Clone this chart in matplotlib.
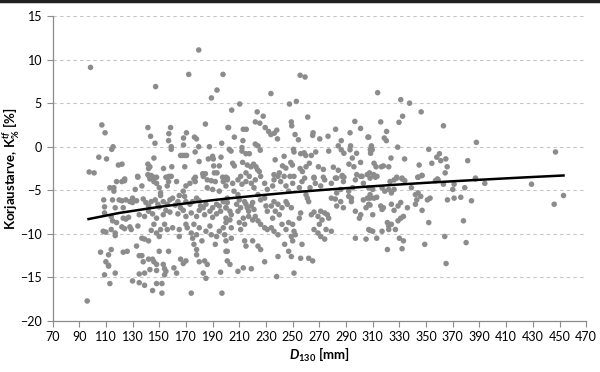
import matplotlib
matplotlib.use('Agg')
import matplotlib.pyplot as plt
from matplotlib.lines import Line2D

plt.rcParams['font.family'] = ['Lato', 'DejaVu Sans']
plt.rcParams['mathtext.fontset'] = 'custom'
plt.rcParams['mathtext.rm'] = 'Lato:bold'
plt.rcParams['mathtext.it'] = 'Lato:italic:bold'
plt.rcParams['mathtext.bf'] = 'Lato:bold'

# D130 (mm) and correction need (%), region by region
d_left_top = [98.5, 179.6, 147.3, 172.1, 197.8, 193.3, 189.1, 107, 109.4, 141.5, 143.5, 146.8,
              158.5, 157.2, 157, 159, 159, 168.2, 170.4, 168.2, 176.4, 177.9, 184.6, 179.6,
              176.9, 187.6, 196.8, 201.5, 115.4, 114.4, 104.7, 110.5, 97.5, 101.2, 119.4, 122.1,
              146, 141.5, 143, 142, 153.2, 159.4, 166, 167.5, 169, 170.5, 169.1, 179.9, 186.8,
              190, 190.5, 196.3, 190.8, 195, 133.8, 141.5, 144, 146, 148, 157.2, 177.1, 182.6,
              184.6, 191.3, 193.3, 197.5, 200, 202.5, 124.1]
k_left_top = [9.1, 11.1, 6.9, 8.3, 8.3, 6.5, 5.6, 2.5, 1.6, 2.2, 1.2, 0.4,
              2.2, 1.5, 0.7, 0.0, -0.3, 1.0, 1.6, 0.2, 1.1, 0.9, 2.6, 0.0,
              -0.6, 0.0, 0.4, 2.2, 0.0, -0.3, -1.2, -1.4, -2.9, -3.0, -2.1, -2.0,
              -1.3, -2.0, -2.3, -2.5, -2.5, -2.3, -1.0, -1.0, -1.0, -1.0, -2.3, -1.7, -1.4,
              -1.1, -1.4, -1.2, -2.2, -2.2, -3.4, -3.2, -3.3, -3.5, -3.5, -3.4, -3.5, -3.1,
              -3.1, -3.0, -3.0, -3.5, -3.5, -0.3, -3.7]

d_left_low = [113, 116, 116, 118, 122, 124, 134, 132, 130, 137, 142, 143, 146, 148, 150, 151, 151,
              155, 157, 159, 156, 163, 165, 168, 170, 173, 176, 177, 183, 186, 189, 192, 186, 190,
              198, 200, 201, 195,
              108.4, 109, 109, 115, 117, 120, 122, 123, 125, 128, 130, 133, 138, 140, 142, 144, 147,
              149, 150, 153, 156, 158, 160, 162, 164, 166, 169, 170, 173, 175, 178, 180, 181, 183,
              185, 188, 190, 193, 195, 198, 200, 201, 114, 115, 118, 123, 125, 127, 135, 139, 142,
              145, 148, 153, 155, 158, 164, 168, 170, 174, 178, 180, 184, 190, 193, 196, 200,
              108, 110, 114, 117, 117, 122, 124, 128, 129, 134, 137, 139, 142, 144, 146, 148, 150,
              151, 154, 156, 160, 165, 165, 170, 171, 174, 175, 176, 178, 180, 182, 185, 188, 189,
              193, 195, 198, 200, 192,
              106, 112, 114, 110, 112, 112, 123, 126, 133, 135, 137, 138, 142, 145, 146, 148, 150,
              153, 154, 155, 157, 166, 168, 170, 176, 178, 178, 180, 184, 186, 200, 201, 109, 117,
              135, 139, 143, 148, 154, 161, 163, 183, 185, 196,
              113, 130, 135, 139, 145, 148, 152, 152, 174, 197, 96]
k_left_low = [-4.7, -4.7, -5.1, -4.0, -4.0, -3.9, -3.5, -4.9, -5.9, -4.5, -3.3, -3.7, -4.0, -4.2, -4.7,
              -5.3, -5.6, -3.5, -4.0, -3.4, -4.5, -4.0, -5.6, -5.1, -4.5, -4.2, -3.7, -4.0, -3.4, -3.8,
              -3.9, -4.0, -4.7, -4.9, -4.0, -4.5, -3.6, -5.1,
              -6.1, -6.9, -7.6, -6.1, -7.0, -6.1, -6.2, -7.0, -6.1, -6.3, -6.4, -6.2, -6.0, -6.4, -6.8,
              -6.3, -6.1, -6.6, -6.9, -6.3, -6.6, -6.1, -5.9, -6.7, -6.3, -7.0, -5.7, -6.3, -6.6, -6.3,
              -5.9, -6.2, -6.8, -7.0, -6.6, -7.4, -7.0, -6.6, -6.8, -6.3, -7.0, -5.9, -8.0, -8.5, -8.7,
              -8.2, -8.3, -8.1, -7.8, -8.0, -7.4, -7.7, -8.2, -7.8, -7.3, -7.5, -7.7, -7.3, -8.0, -7.6,
              -8.0, -7.3, -7.8, -8.1, -7.7, -7.4, -8.2,
              -9.7, -9.8, -9.5, -9.9, -10.2, -9.2, -9.4, -9.2, -9.5, -9.1, -10.5, -10.6, -10.8, -9.6,
              -8.9, -9.9, -10.3, -9.5, -8.9, -9.5, -9.3, -9.5, -10.3, -8.9, -9.3, -9.9, -10.5, -8.9,
              -10.1, -9.3, -10.8, -9.7, -9.1, -10.1, -10.3, -9.7, -9.3, -10.8, -11.2,
              -12.1, -12.4, -11.8, -13.2, -13.6, -13.7, -12.1, -12.0, -11.4, -12.5, -12.5, -13.2,
              -12.9, -12.9, -13.2, -13.5, -12.0, -13.5, -14.0, -14.3, -12.0, -12.9, -13.4, -13.1,
              -11.2, -11.8, -12.4, -13.2, -13.1, -13.5, -12.0, -13.1, -14.7, -14.5, -14.6, -14.5,
              -14.1, -14.2, -14.7, -13.9, -14.5, -14.5, -15.1, -14.4,
              -15.7, -15.4, -15.6, -15.9, -16.5, -15.7, -15.7, -16.8, -16.8, -16.8, -17.7]

d_mid_top = [255.6, 259.3, 233.7, 252.8, 247.6, 210.3, 204.3, 223.4, 227.9, 261.3, 249, 249.3, 222,
             225.4, 202, 213, 215.2, 229.4, 232, 233.7, 236.2, 238.1, 238.6, 251.8, 254.3, 206.3,
             212.7, 265.3, 265, 270.3, 276.5, 282.2, 286.4, 284.2, 293, 296.6, 300.9, 306.4,
             293.4, 309, 203.8, 212, 212, 222, 224, 225.7, 215, 217.5, 250.6, 251, 256, 258.6,
             259.8, 264, 267.3, 277, 286.4, 288.4, 293, 297.9, 308.4, 309.6, 205, 206.3, 212.5,
             216, 218.7, 220.7, 222.5, 223.7, 225, 236.9, 243.6, 242.4, 244.9, 248.6, 249.8,
             255.6, 257.3, 260, 262.5, 269.3, 273, 280.5, 284.2, 287.2, 292.2, 294.7, 295.9,
             300.9, 305.9, 307.6, 215, 217.5, 236, 240, 243.6, 248, 266, 273, 282, 288.4, 298, 302]
k_mid_top = [8.2, 8.0, 6.1, 5.2, 4.9, 4.9, 4.2, 4.0, 3.5, 3.4, 2.85, 2.4, 2.85,
             2.7, 2.2, 2.0, 2.0, 2.2, 1.75, 1.4, 1.55, 1.9, 0.9, 1.4, 0.8, 1.1,
             0.7, 1.6, 1.3, 0.9, 1.2, 2.0, 0.7, 0.1, 1.6, 2.9, 2.1, 1.1,
             0.1, -0.05, -0.5, -0.1, -0.5, 0.3, 0.1, -0.4, -0.8, -0.8, -0.3, -0.6, -0.8, -0.7,
             -1.0, -1.0, -0.6, -0.5, -0.35, -0.75, -0.35, -0.75, -0.75, -0.35, -1.9, -2.2, -1.8,
             -2.1, -2.3, -2.0, -2.3, -2.65, -2.85, -1.5, -1.1, -2.2, -2.45, -1.8, -2.1,
             -2.5, -2.85, -2.3, -1.9, -2.3, -2.6, -2.35, -2.7, -3.3, -2.0, -1.3, -2.3,
             -1.8, -3.2, -3.0, -3.0, -3.4, -3.2, -3.0, -3.4, -3.4, -3.5, -3.5, -3.6, -3.5, -3.2, -3.4]

d_mid_low = [201, 205, 209, 211, 212, 215, 219, 221, 222, 226, 229, 231, 235, 236, 239, 241, 245, 247,
             250, 251, 255, 257, 259, 263, 266, 267, 271, 274, 279, 283, 287, 288, 292, 294, 295, 297,
             301, 303, 308, 283, 286, 308, 306, 310, 260, 261, 262, 279, 282,
             199, 201, 200, 203, 204, 203, 200, 204, 206, 209, 210, 208, 211, 209, 213, 210, 214, 211,
             214, 215, 216, 217, 219, 220, 221, 217, 220, 222, 224, 226, 229, 230, 231, 234, 236, 239,
             237, 240, 235, 242, 245, 246, 249, 224, 226, 229, 231, 234, 236, 239, 242, 245, 247, 250,
             251, 252, 249, 255, 256, 264, 266, 269, 271, 274, 276, 277, 272, 266, 269, 271, 274, 270,
             275, 279, 283, 286, 288, 292, 294, 297, 300, 301, 305, 307, 303, 308, 297, 305, 307, 310,
             199, 204, 201, 203, 209, 213, 219, 214, 215, 220, 224, 226, 229, 239, 244, 247, 249, 250,
             257, 256, 262, 265, 251, 238]
k_mid_low = [-3.8, -4.2, -3.8, -3.4, -4.3, -4.0, -4.2, -4.7, -3.8, -3.4, -4.2, -4.9, -4.5, -3.8, -3.4,
             -4.0, -4.5, -5.1, -4.2, -3.4, -4.7, -4.0, -3.6, -4.7, -3.6, -4.2, -4.5, -3.8, -4.2, -3.6,
             -3.4, -4.0, -5.1, -5.9, -4.7, -3.8, -3.4, -4.2, -3.6, -5.3, -4.9, -5.5, -5.9, -4.9, -5.5,
             -5.9, -6.3, -5.9, -6.0,
             -6.3, -6.4, -7.0, -7.4, -7.8, -8.4, -8.7, -9.3, -5.1, -5.5, -6.1, -6.6, -7.0, -7.4, -8.2,
             -8.7, -8.9, -9.5, -6.3, -6.6, -7.0, -7.4, -6.8, -6.4, -7.2, -8.0, -8.4, -8.0, -5.5, -6.1,
             -5.9, -6.8, -7.4, -6.8, -6.3, -6.6, -7.4, -7.8, -8.2, -7.0, -6.3, -6.6, -7.0, -8.5, -8.9,
             -9.3, -9.5, -9.3, -9.7, -10.1, -8.9, -9.5, -8.7, -8.9, -9.7, -10.1, -10.3, -8.2, -7.6,
             -7.8, -7.5, -8.0, -7.4, -7.6, -7.8, -8.2, -8.4, -9.5, -9.9, -10.3, -10.6, -8.9, -9.5,
             -9.7, -6.8, -6.3, -7.0, -5.7, -6.3, -7.4, -8.2, -7.8, -7.0, -6.6, -6.1, -5.9, -10.5,
             -10.6, -9.5, -9.7,
             -10.1, -10.5, -12.0, -13.5, -14.3, -13.9, -14.0, -10.8, -11.4, -10.8, -11.4, -11.8, -13.2,
             -12.6, -11.2, -12.0, -12.6, -10.8, -11.2, -12.8, -12.8, -13.1, -14.5, -14.9]

d_right = [313.7, 331, 337.6, 346.3, 316, 332.4, 329.7, 363, 320.4, 318.7, 320.2, 307, 387.7, 309,
           308.2, 328.7, 352, 360, 358, 361, 364.8, 365.8, 323.7, 333.9, 381.2, 354.3, 311, 312.5,
           316.5, 318, 322, 344.8, 364.3, 310.7, 313.2, 328, 332, 343.8, 346.8, 358.5, 387, 447,
           312, 323, 326, 328, 332, 334, 339, 344, 347, 357, 359, 307, 317, 319, 322, 324, 326,
           342, 344, 346, 343, 342, 311, 313, 308, 316, 317, 318, 324, 326, 329, 331, 336, 351,
           353, 347, 363, 371, 370, 379, 366, 371, 376, 384, 387, 394, 429, 446, 453, 310, 333,
           331, 321, 322, 329, 352, 378, 308, 317, 322, 324, 327, 313, 330, 333, 349, 364, 380,
           321, 332, 365]
k_right = [6.2, 5.4, 5.0, 4.0, 2.85, 3.5, 2.8, 2.4, 1.75, 1.0, 0.7, 1.1, 0.5, 0.1,
           -0.35, -0.05, -0.3, -0.8, -1.2, -1.6, -1.4, -2.3, -1.3, -1.4, -1.6, -1.9, -1.9, -2.3,
           -2.3, -2.2, -2.3, -2.1, -3.0, -3.2, -3.4, -3.5, -3.6, -3.5, -3.3, -3.7, -3.6, -0.6,
           -3.5, -4.0, -3.8, -3.6, -3.7, -3.9, -4.7, -3.5, -3.3, -3.9, -3.8, -4.7, -4.7, -5.1,
           -4.9, -5.3, -4.9, -5.5, -5.3, -5.7, -6.1, -6.6, -5.9, -5.8, -6.7, -6.8, -7.2, -7.0,
           -6.6, -7.3, -6.8, -6.4, -7.0, -6.1, -5.9, -7.3, -4.3, -4.3, -4.9, -4.7, -6.1, -5.9,
           -5.8, -6.2, -3.7, -4.2, -4.3, -6.6, -5.6, -7.8, -8.0, -8.2, -8.7, -9.1, -8.5, -8.7,
           -8.5, -9.6, -9.7, -9.5, -8.9, -9.5, -10.5, -10.5, -10.8, -11.2, -10.3, -11.0, -11.8,
           -11.7, -13.4]

# logarithmic trend line, read at a few diameters
trend_d = [97, 120, 150, 175, 200, 225, 250, 275, 300, 325, 350, 375, 400, 425, 453]
trend_k = [-8.3, -7.6, -6.9, -6.4, -5.96, -5.58, -5.23, -4.93, -4.64, -4.38, -4.14, -3.92, -3.71,
           -3.51, -3.3]

x_ticks = list(range(70, 471, 20))
y_ticks = list(range(-20, 16, 5))

d_all = d_left_top + d_left_low + d_mid_top + d_mid_low + d_right
k_all = k_left_top + k_left_low + k_mid_top + k_mid_low + k_right

fig = plt.figure(figsize=(6, 3.72), dpi=100)
ax = fig.add_axes([0.0875, 0.137, 0.8895, 0.82])

ax.scatter(d_all, k_all, s=16, color='#8c8c8c', edgecolors='none', zorder=2)
ax.plot(trend_d, trend_k, color='black', linewidth=1.8, zorder=3)

ax.set_xlim(70, 470)
ax.set_ylim(-20, 15)
ax.set_xticks(x_ticks)
ax.set_yticks(y_ticks)
ax.tick_params(labelsize=9, length=4, width=0.8, color='#8c8c8c', labelcolor='black')

ax.grid(axis='y', linestyle=(0, (3, 3)), color='#c4c4c4', linewidth=0.8, zorder=0)
ax.set_axisbelow(True)
for side in ['top', 'right']:
    ax.spines[side].set_visible(False)
for side in ['left', 'bottom']:
    ax.spines[side].set_color('#8c8c8c')
    ax.spines[side].set_linewidth(0.9)

ax.set_xlabel(r'$D_{130}$ [mm]', fontsize=9.5, fontweight='bold')
ax.xaxis.set_label_coords(0.5, -0.08)
ax.set_ylabel(r'Korjaustarve, K$^{\mathit{tf}}_{\%}$ [%]', fontsize=9.5, fontweight='bold')
ax.yaxis.set_label_coords(-0.058, 0.5)

# dark rule along the top edge of the picture
fig.add_artist(Line2D([0, 1], [0.997, 0.997], color='#202020', linewidth=2.5,
                      transform=fig.transFigure))

plt.savefig('out.png', dpi=100)
plt.close()
